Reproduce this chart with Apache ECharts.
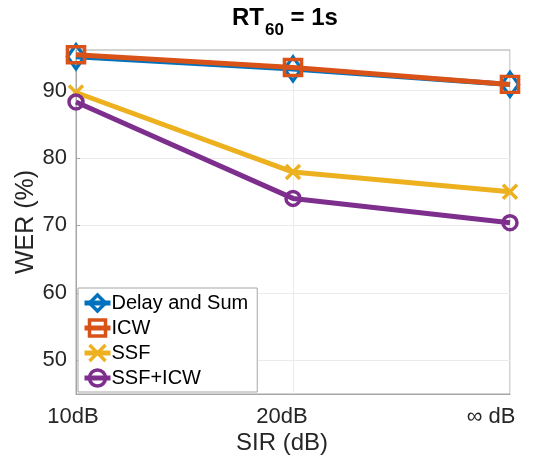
<!DOCTYPE html>
<html>
<head>
<meta charset="utf-8">
<script src="https://cdn.jsdelivr.net/npm/echarts@6/dist/echarts.min.js"></script>
<style>
  html, body { margin: 0; padding: 0; background: #fff; }
  #chart { width: 543px; height: 464px; }
</style>
</head>
<body>
<div id="chart"></div>
<script>
// SIR conditions on the x axis
const sirLevels = ['10dB', '20dB', '∞ dB'];
// Word error rate (%) per method
const delayAndSum = [95.0, 93.2, 90.9];
const icw = [95.3, 93.4, 90.9];
const ssf = [89.7, 77.9, 75.0];
const ssfIcw = [88.3, 74.0, 70.4];
// Labelled y ticks
const yTicks = [50, 60, 70, 80, 90];

const FONT = '"Liberation Sans", Arial, Helvetica, sans-serif';
const X_PATH = 'path://M0,0 L10,10 M10,0 L0,10';

function lineSeries(name, data, color, symbol, size, extra) {
  return Object.assign({
    name: name,
    type: 'line',
    data: data,
    symbol: symbol,
    symbolSize: size,
    showAllSymbol: true,
    lineStyle: { color: color, width: 5 },
    itemStyle: { color: 'rgba(255,255,255,0)', borderColor: color, borderWidth: 3.5 },
    emphasis: { disabled: true },
    animation: false
  }, extra || {});
}

const chart = echarts.init(document.getElementById('chart'), null, { renderer: 'canvas' });

chart.setOption({
  backgroundColor: '#fff',
  animation: false,
  textStyle: { fontFamily: FONT },
  title: {
    left: 232,
    top: 6,
    padding: 0,
    text: '{a|RT}{s|60}{a| = 1s}',
    textStyle: {
      rich: {
        a: { fontFamily: FONT, fontWeight: 'bold', fontSize: 24, lineHeight: 24, color: '#000', verticalAlign: 'top' },
        s: { fontFamily: FONT, fontWeight: 'bold', fontSize: 17, lineHeight: 16, color: '#000', verticalAlign: 'top', padding: [16, 0, 0, 1] }
      }
    }
  },
  grid: {
    left: 76, right: 33, top: 50, bottom: 70,
    show: true, borderColor: '#a6a6a6', borderWidth: 1, backgroundColor: '#fff'
  },
  legend: {
    orient: 'vertical',
    left: 78, top: 288,
    padding: [5, 9, 4, 4],
    itemGap: 5,
    itemWidth: 26,
    itemHeight: 20,
    lineStyle: { width: 5 },
    itemStyle: { borderWidth: 3.5 },
    backgroundColor: '#fff',
    borderColor: '#a6a6a6',
    borderWidth: 1,
    textStyle: { fontFamily: FONT, fontSize: 20, color: '#000', padding: [0, 0, 0, -4] },
    data: ['Delay and Sum', 'ICW', 'SSF', 'SSF+ICW']
  },
  xAxis: {
    type: 'category',
    data: sirLevels,
    boundaryGap: false,
    name: 'SIR (dB)',
    nameLocation: 'middle',
    nameGap: 37,
    nameMoveOverlap: false,
    nameTextStyle: { fontFamily: FONT, fontSize: 24, color: '#262626', padding: [0, 22, 0, 0] },
    axisLine: { show: true, lineStyle: { color: '#a6a6a6' } },
    axisTick: { show: false },
    axisLabel: {
      fontFamily: FONT, fontSize: 22, color: '#262626', margin: 12,
      formatter: function (v, i) { return '{p' + i + '|' + v + '}'; },
      rich: {
        p0: { fontFamily: FONT, fontSize: 22, color: '#262626', padding: [0, 6, 0, 0] },
        p1: { fontFamily: FONT, fontSize: 22, color: '#262626', padding: [0, 22, 0, 0] },
        p2: { fontFamily: FONT, fontSize: 22, color: '#262626', padding: [0, 38, 0, 0] }
      }
    },
    splitLine: { show: true, lineStyle: { color: '#ebebeb', width: 1 } }
  },
  yAxis: {
    type: 'value',
    min: 45,
    max: 96,
    name: 'WER (%)',
    nameLocation: 'middle',
    nameGap: 37,
    nameMoveOverlap: false,
    nameTextStyle: { fontFamily: FONT, fontSize: 25, color: '#262626' },
    axisLine: { show: true, lineStyle: { color: '#a6a6a6' } },
    axisTick: { show: true, inside: true, length: 4, lineStyle: { color: '#a6a6a6' }, customValues: yTicks },
    axisLabel: { fontFamily: FONT, fontSize: 22, color: '#262626', margin: 9, customValues: yTicks },
    splitLine: { show: true, lineStyle: { color: '#ebebeb', width: 1 } }
  },
  series: [
    lineSeries('Delay and Sum', delayAndSum, '#0072BD', 'diamond', [17, 24], { z: 2 }),
    lineSeries('ICW', icw, '#D95319', 'rect', [17, 16], { z: 3 }),
    lineSeries('SSF', ssf, '#EDB120', X_PATH, [14, 14], { z: 4 }),
    lineSeries('SSF+ICW', ssfIcw, '#7E2F8E', 'circle', [14, 14], { z: 5 })
  ]
});
</script>
</body>
</html>
